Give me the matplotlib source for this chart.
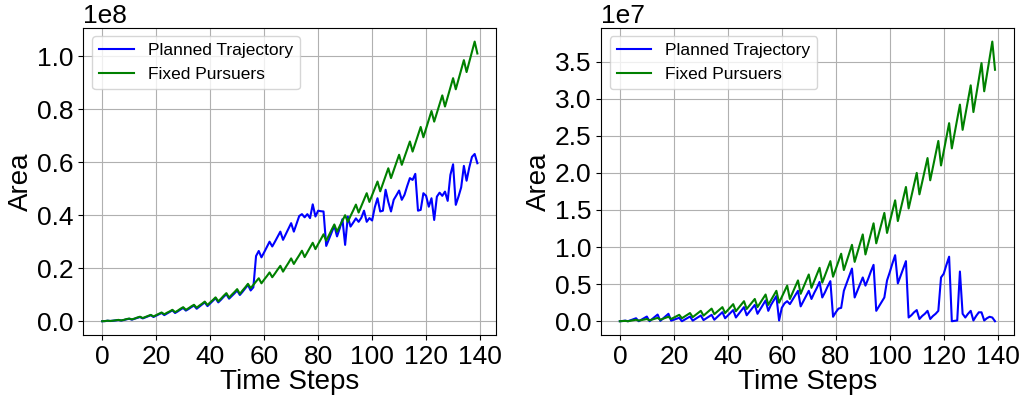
import numpy as np
import matplotlib.pyplot as plt

plt.rcParams['font.family'] = ['Liberation Sans', 'DejaVu Sans']

# Pas de temps
steps = np.arange(140)

# Graphe de gauche (x 1e8)
planned_left = [
    0.0, 0.0004, 0.0018, 0.0008, 0.0018, 0.003, 0.0045, 0.0025, 0.0045, 0.0072,
    0.0092, 0.006, 0.0092, 0.0128, 0.0158, 0.0105, 0.0145, 0.0185, 0.0225, 0.016,
    0.021, 0.026, 0.031, 0.023, 0.029, 0.035, 0.041, 0.031, 0.037, 0.044,
    0.050, 0.040, 0.046, 0.053, 0.059, 0.047, 0.055, 0.063, 0.071, 0.057,
    0.067, 0.077, 0.087, 0.071, 0.081, 0.092, 0.102, 0.085, 0.095, 0.105,
    0.116, 0.099, 0.111, 0.124, 0.137, 0.116, 0.128, 0.246, 0.265, 0.241,
    0.260, 0.280, 0.300, 0.282, 0.300, 0.319, 0.338, 0.307, 0.328, 0.349,
    0.370, 0.338, 0.368, 0.397, 0.404, 0.392, 0.404, 0.389, 0.441, 0.395,
    0.417, 0.415, 0.414, 0.284, 0.309, 0.335, 0.360, 0.320, 0.350, 0.385,
    0.288, 0.395, 0.357, 0.372, 0.388, 0.375, 0.390, 0.417, 0.375, 0.389,
    0.380, 0.430, 0.464, 0.414, 0.417, 0.496, 0.450, 0.414, 0.458, 0.475,
    0.493, 0.458, 0.477, 0.510, 0.540, 0.533, 0.556, 0.417, 0.420, 0.483,
    0.473, 0.432, 0.464, 0.382, 0.470, 0.485, 0.473, 0.489, 0.454, 0.552,
    0.592, 0.439, 0.470, 0.505, 0.586, 0.530, 0.580, 0.620, 0.631, 0.596,
]
fixed_left = [
    0.0, 0.0005, 0.002, 0.001, 0.002, 0.0035, 0.005, 0.003, 0.005, 0.008,
    0.010, 0.007, 0.010, 0.014, 0.017, 0.012, 0.016, 0.020, 0.024, 0.018,
    0.023, 0.028, 0.033, 0.026, 0.032, 0.037, 0.043, 0.034, 0.040, 0.047,
    0.053, 0.043, 0.049, 0.056, 0.062, 0.051, 0.059, 0.066, 0.074, 0.061,
    0.071, 0.080, 0.090, 0.075, 0.085, 0.096, 0.106, 0.089, 0.100, 0.110,
    0.121, 0.103, 0.116, 0.128, 0.141, 0.125, 0.137, 0.150, 0.162, 0.143,
    0.157, 0.170, 0.184, 0.166, 0.180, 0.195, 0.209, 0.187, 0.204, 0.220,
    0.237, 0.216, 0.233, 0.249, 0.266, 0.242, 0.260, 0.278, 0.296, 0.272,
    0.291, 0.309, 0.328, 0.304, 0.324, 0.345, 0.365, 0.338, 0.359, 0.379,
    0.400, 0.375, 0.397, 0.418, 0.440, 0.410, 0.434, 0.459, 0.483, 0.450,
    0.476, 0.501, 0.527, 0.490, 0.519, 0.548, 0.577, 0.540, 0.569, 0.599,
    0.628, 0.590, 0.619, 0.649, 0.678, 0.640, 0.671, 0.702, 0.733, 0.694,
    0.727, 0.760, 0.793, 0.753, 0.786, 0.819, 0.852, 0.810, 0.846, 0.881,
    0.917, 0.875, 0.912, 0.948, 0.985, 0.940, 0.978, 1.017, 1.055, 1.010,
]

# Graphe de droite (x 1e7)
planned_right = [
    0.0, 0.003, 0.008, 0.0, 0.013, 0.027, 0.04, 0.0, 0.021, 0.042,
    0.063, 0.0, 0.03, 0.06, 0.09, 0.005, 0.037, 0.068, 0.10, 0.008,
    0.02, 0.033, 0.046, 0.0, 0.021, 0.042, 0.063, 0.008, 0.031, 0.054,
    0.077, 0.015, 0.039, 0.062, 0.086, 0.02, 0.054, 0.088, 0.122, 0.04,
    0.077, 0.113, 0.15, 0.05, 0.097, 0.143, 0.19, 0.08, 0.127, 0.173,
    0.22, 0.10, 0.16, 0.22, 0.28, 0.14, 0.22, 0.28, 0.34, 0.01,
    0.18, 0.24, 0.27, 0.23, 0.29, 0.35, 0.41, 0.20, 0.27, 0.34,
    0.41, 0.30, 0.38, 0.45, 0.53, 0.32, 0.39, 0.47, 0.54, 0.06,
    0.12, 0.17, 0.18, 0.41, 0.51, 0.61, 0.71, 0.32, 0.41, 0.50,
    0.59, 0.48, 0.57, 0.67, 0.76, 0.14, 0.20, 0.26, 0.32, 0.55,
    0.66, 0.78, 0.89, 0.51, 0.61, 0.71, 0.81, 0.05, 0.08, 0.12,
    0.15, 0.03, 0.07, 0.10, 0.14, 0.03, 0.07, 0.10, 0.14, 0.59,
    0.64, 0.76, 0.87, 0.0, 0.005, 0.01, 0.67, 0.10, 0.05, 0.10,
    0.14, 0.01, 0.07, 0.12, 0.12, 0.01, 0.04, 0.06, 0.05, 0.0,
]
fixed_right = [
    0.0, 0.002, 0.005, 0.0, 0.007, 0.013, 0.02, 0.008, 0.015, 0.023,
    0.03, 0.012, 0.023, 0.034, 0.045, 0.02, 0.033, 0.047, 0.06, 0.03,
    0.049, 0.067, 0.086, 0.04, 0.063, 0.087, 0.11, 0.055, 0.083, 0.112,
    0.14, 0.075, 0.107, 0.138, 0.17, 0.095, 0.127, 0.158, 0.19, 0.11,
    0.15, 0.19, 0.23, 0.135, 0.18, 0.225, 0.27, 0.165, 0.21, 0.255,
    0.30, 0.19, 0.247, 0.303, 0.36, 0.22, 0.283, 0.347, 0.41, 0.25,
    0.327, 0.403, 0.48, 0.30, 0.383, 0.467, 0.55, 0.37, 0.457, 0.543,
    0.63, 0.45, 0.54, 0.63, 0.72, 0.52, 0.617, 0.713, 0.81, 0.60,
    0.703, 0.807, 0.91, 0.69, 0.803, 0.917, 1.03, 0.80, 0.923, 1.047,
    1.17, 0.90, 1.04, 1.18, 1.32, 1.05, 1.187, 1.323, 1.46, 1.19,
    1.337, 1.483, 1.63, 1.35, 1.503, 1.657, 1.81, 1.52, 1.68, 1.84,
    2.00, 1.71, 1.873, 2.037, 2.20, 1.90, 2.077, 2.253, 2.43, 2.10,
    2.29, 2.48, 2.67, 2.33, 2.527, 2.723, 2.92, 2.58, 2.78, 2.98,
    3.18, 2.82, 3.04, 3.26, 3.48, 3.10, 3.323, 3.547, 3.77, 3.39,
]

fig = plt.figure(figsize=(10.24, 4.0), dpi=100)
ax1 = fig.add_axes([0.0815, 0.162, 0.403, 0.769])
ax2 = fig.add_axes([0.587, 0.162, 0.403, 0.769])

panels = [
    (ax1, planned_left, fixed_left, 1e8),
    (ax2, planned_right, fixed_right, 1e7),
]

for ax, planned, fixed, scale in panels:
    ax.plot(steps, np.array(planned) * scale, color='blue', linewidth=1.5,
            label='Planned Trajectory')
    ax.plot(steps, np.array(fixed) * scale, color='green', linewidth=1.5,
            label='Fixed Pursuers')
    ax.grid(True)
    ax.set_xticks([0, 20, 40, 60, 80, 100, 120, 140])
    ax.tick_params(labelsize=19)
    ax.yaxis.get_offset_text().set_fontsize(19)
    ax.set_xlabel('Time Steps', fontsize=20, labelpad=0)
    ax.set_ylabel('Area', fontsize=20, labelpad=2)
    ax.legend(loc='upper left', fontsize=12.5)

ax1.set_yticks(np.arange(0, 1.1e8, 0.2e8))
ax2.set_yticks(np.arange(0, 3.6e7, 0.5e7))

fig.savefig('out.png', dpi=100)
